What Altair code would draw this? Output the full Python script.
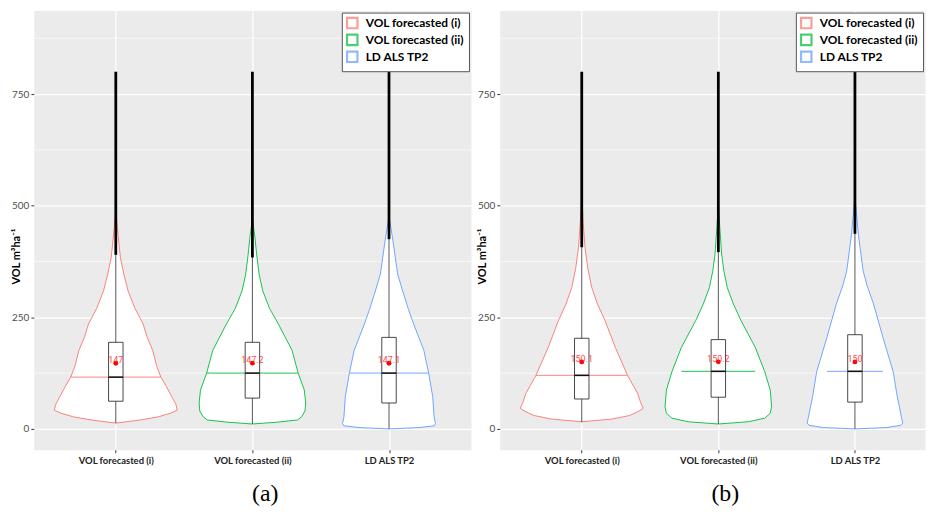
import altair as alt
import pandas as pd

GROUPS = ["VOL forecasted (i)", "VOL forecasted (ii)", "LD ALS TP2"]
COLORS = ["#F8766D", "#00BA38", "#619CFF"]
Y_TICKS = [0, 250, 500, 750]
Y_MINOR = [125, 375, 625, 875]

# ---- Panel (a): violin outlines (value, half-width in category units)
A1_VAL = [13, 20, 27, 35, 42, 55, 72, 95, 116, 140, 176, 205, 235, 270, 309, 345, 383, 430, 487]
A1_HW = [0, 0.18, 0.31, 0.40, 0.45, 0.44, 0.41, 0.37, 0.33, 0.30, 0.27, 0.23, 0.20, 0.14, 0.09, 0.06, 0.034, 0.018, 0]
A2_VAL = [11, 15, 20, 27, 40, 58, 87, 125, 176, 235, 270, 309, 345, 383, 430, 470]
A2_HW = [0, 0.18, 0.33, 0.36, 0.385, 0.39, 0.38, 0.335, 0.29, 0.19, 0.125, 0.076, 0.05, 0.034, 0.018, 0]
A3_VAL = [0, 3, 7, 12, 27, 72, 125, 176, 235, 270, 309, 347, 421, 476]
A3_HW = [0, 0.22, 0.33, 0.34, 0.33, 0.32, 0.29, 0.255, 0.18, 0.14, 0.10, 0.063, 0.029, 0]
A_LOW = [13, 11, 0]
A_Q1 = [62, 69, 58]
A_MED = [116, 125, 125]
A_Q3 = [194, 194, 205]
A_OUT_LO = [390, 384, 425]
A_OUT_HI = [800, 800, 800]
A_MEAN = [147, 147.2, 147.1]

# ---- Panel (b)
B1_VAL = [16, 22, 30, 40, 46, 60, 79, 120, 183, 243, 280, 317, 360, 406, 460, 525]
B1_HW = [0, 0.22, 0.35, 0.42, 0.45, 0.43, 0.41, 0.335, 0.245, 0.17, 0.115, 0.073, 0.044, 0.024, 0.011, 0]
B2_VAL = [11, 16, 24, 35, 50, 87, 128, 183, 243, 280, 317, 355, 392, 450, 503]
B2_HW = [0, 0.22, 0.34, 0.38, 0.39, 0.38, 0.34, 0.27, 0.165, 0.11, 0.065, 0.04, 0.024, 0.011, 0]
B3_VAL = [0, 3, 8, 13, 27, 72, 128, 205, 280, 320, 354, 436, 520]
B3_HW = [0, 0.23, 0.335, 0.35, 0.34, 0.31, 0.28, 0.205, 0.136, 0.09, 0.06, 0.025, 0]
B_LOW = [15, 11, 0]
B_Q1 = [67, 71, 60]
B_MED = [120, 129, 129]
B_Q3 = [203, 200, 211]
B_OUT_LO = [407, 396, 437]
B_OUT_HI = [800, 800, 800]
B_MEAN = [150.1, 150.2, 150]

LABEL_EXPR = "[" + ",".join("'%s'" % g for g in GROUPS) + "][datum.value - 1]"
FONT = "Lato"


def panel(violins, low, q1, med, q3, olo, ohi, mean, caption, width, xmax):
    vrows = []
    for i, (vals, hws) in enumerate(violins):
        for v, h in zip(vals, hws):
            vrows.append({"g": GROUPS[i], "gi": i + 1, "v": v, "hw": h})
    vdf = pd.DataFrame(vrows)
    sdf = pd.DataFrame({"g": GROUPS, "col": COLORS, "gi": [1, 2, 3], "low": low, "q1": q1,
                        "med": med, "q3": q3, "olo": olo, "ohi": ohi, "mean": mean})
    sdf["mhw"] = [next(h for v, h in zip(*vv) if v >= m) for vv, m in zip(violins, med)]
    mdf = pd.DataFrame({"m": Y_MINOR})

    ys = alt.Scale(domain=[-46.7, 937], nice=False, zero=False)
    xs = alt.Scale(domain=[0.4, xmax], nice=False, zero=False)
    stroke_scale = alt.Scale(domain=GROUPS, range=COLORS)

    yaxis = alt.Axis(
        values=Y_TICKS, title="VOL m³ha⁻¹", grid=True, gridColor="white",
        gridWidth=1.2, domain=False, tickSize=3, tickColor="#333333",
        labelFont=FONT, labelFontSize=10, labelColor="#4D4D4D", labelPadding=2,
        titleFont=FONT, titleFontSize=11, titleFontWeight="bold", titleColor="black",
        titleX=-12, titleY=247)
    xaxis = alt.Axis(
        values=[1, 2, 3], labelExpr=LABEL_EXPR, title=None, grid=True,
        gridColor="white", gridWidth=1.2, domain=False, tickSize=3,
        tickColor="#333333", labelFont=FONT, labelFontSize=9.5,
        labelFontWeight="bold", labelColor="#222222", labelPadding=3)

    def Y(f):
        return alt.Y(f, scale=ys, axis=yaxis, title="VOL m³ha⁻¹")

    def X(f):
        return alt.X(f, scale=xs, axis=xaxis, title=None)

    minor = alt.Chart(mdf).mark_rule(color="white", strokeWidth=0.6).encode(y=Y("m:Q"))

    base_v = alt.Chart(vdf).transform_calculate(
        xl="datum.gi - datum.hw", xr="datum.gi + datum.hw")
    violin = base_v.mark_area(orient="horizontal", fill="white", strokeWidth=0.9,
                              fillOpacity=1).encode(
        y=Y("v:Q"),
        x=alt.X("xl:Q", scale=xs, axis=xaxis, title=None, stack=None),
        x2="xr:Q",
        stroke=alt.Stroke("g:N", scale=stroke_scale, legend=alt.Legend(
            title=None, orient="top-right", offset=2, strokeColor="#555555",
            fillColor="white", padding=4, labelFont=FONT, labelFontSize=12,
            labelFontWeight="bold", labelColor="black", symbolType="square",
            symbolSize=110, symbolStrokeWidth=2.2, symbolFillColor="white",
            symbolOpacity=0.7, rowPadding=-4, labelOffset=7, labelLimit=300)),
    )

    base_s = alt.Chart(sdf).transform_calculate(
        bl="datum.gi - 0.053", br="datum.gi + 0.053",
        ml="datum.gi - datum.mhw", mr="datum.gi + datum.mhw")

    vmed = base_s.mark_rule(strokeWidth=0.9).encode(
        y=Y("med:Q"), x=X("ml:Q"), x2="mr:Q",
        stroke=alt.Stroke("col:N", scale=None, legend=None))

    whisk = base_s.mark_rule(color="#444444", strokeWidth=0.9).encode(
        x=X("gi:Q"), y=Y("low:Q"), y2="ohi:Q")

    box = base_s.mark_rect(fill="white", stroke="#333333", strokeWidth=0.9).encode(
        x=X("bl:Q"), x2="br:Q", y=Y("q1:Q"), y2="q3:Q")

    bmed = base_s.mark_rule(color="#111111", strokeWidth=1.6).encode(
        x=X("bl:Q"), x2="br:Q", y=Y("med:Q"))

    outl = base_s.mark_rule(color="black", strokeWidth=2.8).encode(
        x=X("gi:Q"), y=Y("olo:Q"), y2="ohi:Q")

    mdot = base_s.mark_circle(color="red", size=24, opacity=1).encode(
        x=X("gi:Q"), y=Y("mean:Q"))

    mtxt = base_s.mark_text(color="#FF2A2A", fontSize=9, font="Roboto",
                            baseline="bottom", dy=2, opacity=0.85).encode(
        x=X("gi:Q"), y=Y("mean:Q"),
        text=alt.Text("mean:Q", format=".4~"))

    return alt.layer(minor, violin, vmed, whisk, box, bmed, outl, mdot, mtxt).properties(
        width=width, height=442,
        title=alt.TitleParams(caption, orient="bottom", font="Liberation Serif",
                              fontSize=24, fontWeight="normal", color="black",
                              offset=17, dx=13))


pa = panel([(A1_VAL, A1_HW), (A2_VAL, A2_HW), (A3_VAL, A3_HW)],
           A_LOW, A_Q1, A_MED, A_Q3, A_OUT_LO, A_OUT_HI, A_MEAN, "(a)", 440, 3.6)
pb = panel([(B1_VAL, B1_HW), (B2_VAL, B2_HW), (B3_VAL, B3_HW)],
           B_LOW, B_Q1, B_MED, B_Q3, B_OUT_LO, B_OUT_HI, B_MEAN, "(b)", 428, 3.513)

chart = alt.hconcat(pa, pb, spacing=4).resolve_scale(
    stroke="independent").resolve_legend(stroke="independent").properties(
    padding={"left": 2, "top": 0, "right": 0, "bottom": 0}
).configure(background="white").configure_view(fill="#EBEBEB", stroke="transparent")

chart.save("out.html", embed_options={"renderer": "svg", "actions": False})
